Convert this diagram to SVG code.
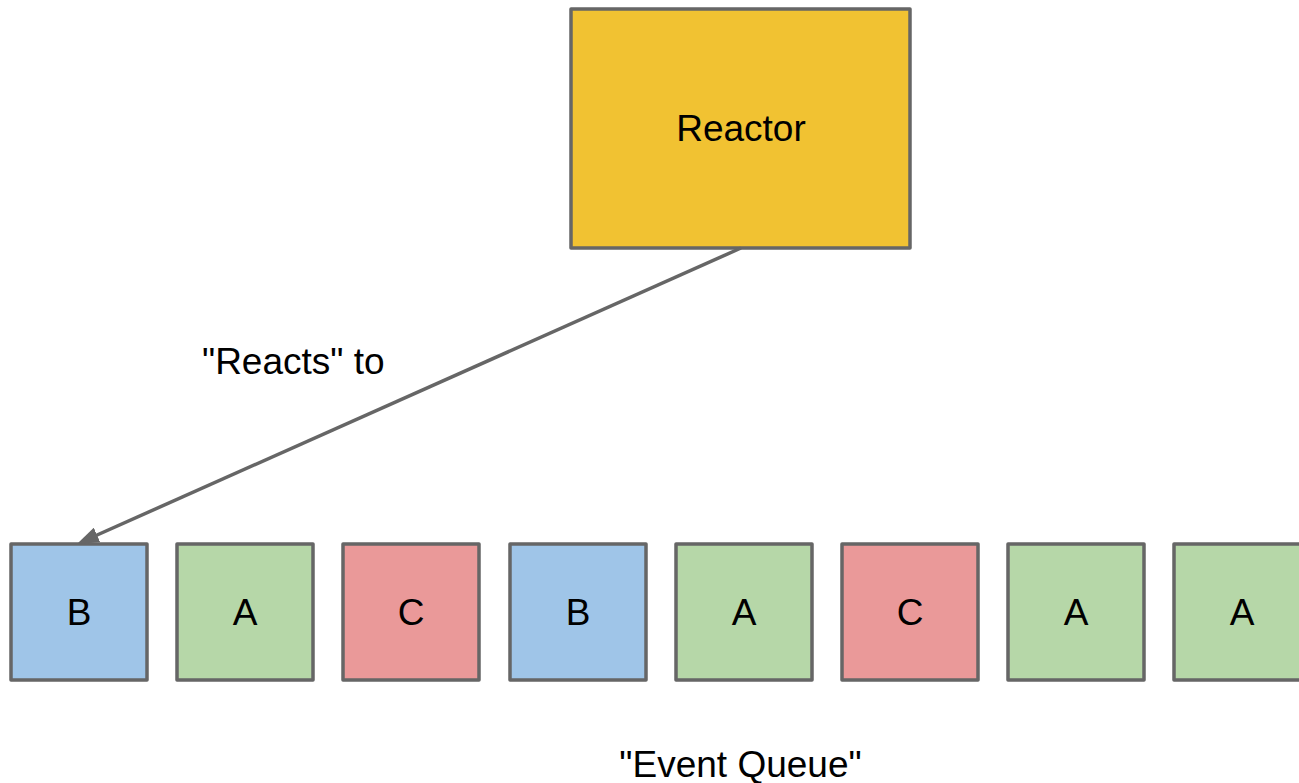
<svg xmlns="http://www.w3.org/2000/svg" width="1299" height="783" viewBox="0 0 1299 783">
<style>
.box{stroke:#666666;stroke-width:3.5;stroke-linejoin:round;}
.lbl{font-family:"Liberation Sans",Arial,sans-serif;font-size:37px;fill:#000;text-anchor:middle;}
.txt{font-family:"Liberation Sans",Arial,sans-serif;font-size:37px;fill:#000;}
.a{fill:#B6D7A8}.b{fill:#9FC5E8}.c{fill:#EA9999}
</style>
<defs>
<marker id="arr" markerUnits="userSpaceOnUse" viewBox="0 0 22 16" refX="11" refY="8" markerWidth="22" markerHeight="16" orient="auto">
<path d="M0,0 L22,8 L0,16 z" fill="#666666"/>
</marker>
</defs>
<rect width="1299" height="783" fill="#ffffff"/>
<g id="reactor">
<rect class="box" x="571" y="9" width="339" height="239" fill="#F1C232"/>
<text class="lbl" x="741" y="141">Reactor</text>
</g>
<g id="q1"><rect class="box b" x="11" y="544" width="136" height="136"/><text class="lbl" x="79" y="625">B</text></g>
<g id="q2"><rect class="box a" x="177" y="544" width="136" height="136"/><text class="lbl" x="245" y="625">A</text></g>
<g id="q3"><rect class="box c" x="343" y="544" width="136" height="136"/><text class="lbl" x="411" y="625">C</text></g>
<g id="q4"><rect class="box b" x="510" y="544" width="136" height="136"/><text class="lbl" x="578" y="625">B</text></g>
<g id="q5"><rect class="box a" x="676" y="544" width="136" height="136"/><text class="lbl" x="744" y="625">A</text></g>
<g id="q6"><rect class="box c" x="842" y="544" width="136" height="136"/><text class="lbl" x="910" y="625">C</text></g>
<g id="q7"><rect class="box a" x="1008" y="544" width="136" height="136"/><text class="lbl" x="1076" y="625">A</text></g>
<g id="q8"><rect class="box a" x="1174" y="544" width="136" height="136"/><text class="lbl" x="1242" y="625">A</text></g>
<g id="connectors">
<line x1="741" y1="248" x2="87" y2="539.5" stroke="#666666" stroke-width="3.5" marker-end="url(#arr)"/>
</g>
<text class="txt" x="202" y="374">"Reacts" to</text>
<text class="lbl" x="740.5" y="777">"Event Queue"</text>
</svg>
